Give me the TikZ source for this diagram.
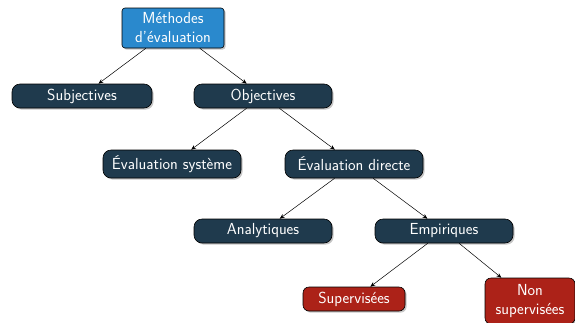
\documentclass[tikz,border=0pt]{standalone}
\usetikzlibrary{shadows,arrows.meta}
\definecolor{navybox}{RGB}{31,58,77}
\definecolor{rootblue}{RGB}{42,137,205}
\definecolor{redbox}{RGB}{172,34,24}
\begin{document}
\begin{tikzpicture}[x=1pt,y=-1pt,
  base/.style={draw=black, line width=0.6pt, text=white, align=center, inner sep=0pt,
    font=\sffamily\fontsize{16}{19}\selectfont,
    drop shadow={shadow xshift=1.6pt, shadow yshift=-1.6pt, opacity=0.45}},
  dark/.style={base, fill=navybox, rounded corners=8pt, minimum width=138pt, minimum height=24pt},
  rootbox/.style={base, fill=rootblue, rounded corners=3pt, minimum width=102pt, minimum height=40pt},
  redn/.style={base, fill=redbox, rounded corners=6pt, minimum width=102pt, minimum height=24pt},
  arr/.style={draw=black, line width=0.5pt, -{Stealth[length=5pt,width=4pt]}}]
\useasboundingbox (0,0) rectangle (575,322);
\begin{scope}
\clip (0,0) rectangle (575,322);
\node[rootbox] (root) at (173,28) {Méthodes\\d'évaluation};
\node[dark, minimum width=140pt] (subj) at (82,96) {Subjectives};
\node[dark] (obj) at (263,96) {Objectives};
\node[dark, minimum height=28pt] (sys) at (172,164) {Évaluation système};
\node[dark, minimum height=28pt] (dir) at (354,164) {Évaluation directe};
\node[dark] (ana) at (263,231) {Analytiques};
\node[dark] (emp) at (444,231) {Empiriques};
\node[redn] (sup) at (354,299) {Supervisées};
\node[redn, minimum width=90pt, minimum height=46pt] (nsup) at (530,301) {Non\\supervisées};
\draw[arr] (root) -- (subj);
\draw[arr] (root) -- (obj);
\draw[arr] (obj) -- (sys);
\draw[arr] (obj) -- (dir);
\draw[arr] (dir) -- (ana);
\draw[arr] (dir) -- (emp);
\draw[arr] (emp) -- (sup);
\draw[arr] (emp) -- (nsup);
\end{scope}
\end{tikzpicture}
\end{document}
